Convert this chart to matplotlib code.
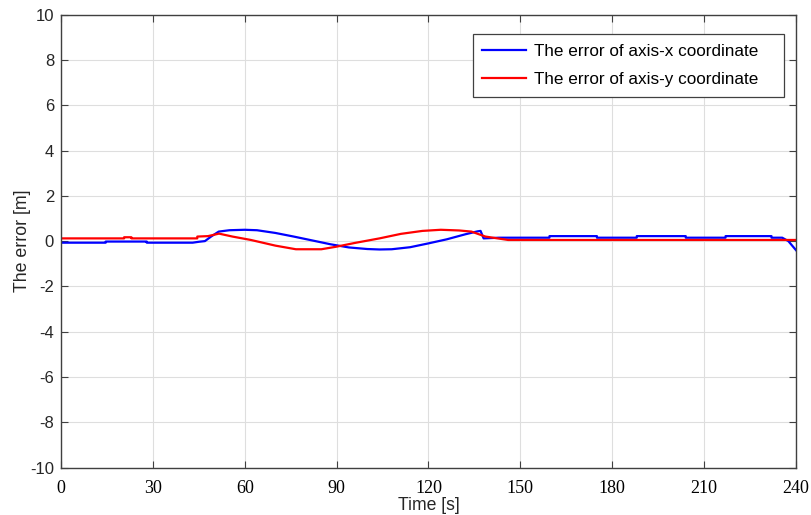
import matplotlib
matplotlib.use("Agg")
import matplotlib.pyplot as plt

# Data
t_x = [0, 14.6, 14.6, 28, 28, 43, 45, 47, 49, 51.5, 55, 60, 64, 70, 76, 82, 88, 94, 100, 104,
       108, 114, 120, 126, 132, 136, 137, 138, 143, 159.5, 159.5, 175, 175, 188, 188, 204, 204,
       217, 217, 232, 232, 235.5, 237.5, 240]
err_x = [-0.07, -0.07, -0.02, -0.02, -0.07, -0.07, -0.03, 0.0, 0.2, 0.42, 0.48, 0.5, 0.48, 0.36,
         0.2, 0.03, -0.14, -0.28, -0.35, -0.37, -0.36, -0.27, -0.1, 0.08, 0.3, 0.43, 0.45, 0.12,
         0.15, 0.15, 0.22, 0.22, 0.15, 0.15, 0.22, 0.22, 0.15, 0.15, 0.22, 0.22, 0.15, 0.15, 0.0, -0.4]

t_y = [0, 20.6, 20.6, 23, 23, 44.5, 44.5, 48, 51.6, 56, 62, 70, 76.7, 85, 89.8, 96, 104, 111,
       118, 124, 130, 134, 138.6, 146, 240]
err_y = [0.12, 0.12, 0.17, 0.17, 0.12, 0.12, 0.2, 0.22, 0.33, 0.2, 0.05, -0.2, -0.36, -0.36,
         -0.25, -0.08, 0.12, 0.32, 0.45, 0.5, 0.47, 0.42, 0.2, 0.05, 0.05]

labels = ["The error of axis-x coordinate", "The error of axis-y coordinate"]
xticks = [0, 30, 60, 90, 120, 150, 180, 210, 240]
yticks = [-10, -8, -6, -4, -2, 0, 2, 4, 6, 8, 10]

plt.rcParams['font.family'] = ['Liberation Sans', 'DejaVu Sans']

fig = plt.figure(figsize=(8.12, 5.15), dpi=100)
ax = fig.add_axes([61/812, 1 - 467.5/515, (796 - 61)/812, (467.5 - 14.7)/515])

ax.plot(t_x, err_x, color='#0000ff', lw=1.6, label=labels[0])
ax.plot(t_y, err_y, color='#ff0000', lw=1.6, label=labels[1])

ax.set_xlim(0, 240)
ax.set_ylim(-10, 10)
ax.set_xticks(xticks)
ax.set_yticks(yticks)
ax.set_xticklabels([str(v) for v in xticks], family='Liberation Serif', fontsize=13)
ax.set_yticklabels([str(v) for v in yticks], fontsize=12)
ax.tick_params(direction='in', length=5, width=0.8, color='#404040', top=True, right=True,
               labelcolor='#262626', pad=5)
ax.tick_params(axis='x', pad=9, labelcolor='#000000')
ax.grid(True, color='#dedede', lw=0.8)
ax.set_axisbelow(True)
for s in ax.spines.values():
    s.set_color('#404040')
    s.set_linewidth(1.0)

ax.set_xlabel('Time [s]', fontsize=12.7, color='#262626', labelpad=0)
ax.set_ylabel('The error [m]', fontsize=12.8, color='#262626', labelpad=-1)

leg = ax.legend(loc='upper left', bbox_to_anchor=(0.560, 0.957, 0.4235, 0), mode='expand',
                borderaxespad=0, fancybox=False, framealpha=1, edgecolor='#404040',
                fontsize=12.3, handlelength=2.6, handletextpad=0.45, labelspacing=0.8,
                borderpad=0.55)
leg.get_frame().set_linewidth(0.9)

fig.savefig('out.png', dpi=100)
